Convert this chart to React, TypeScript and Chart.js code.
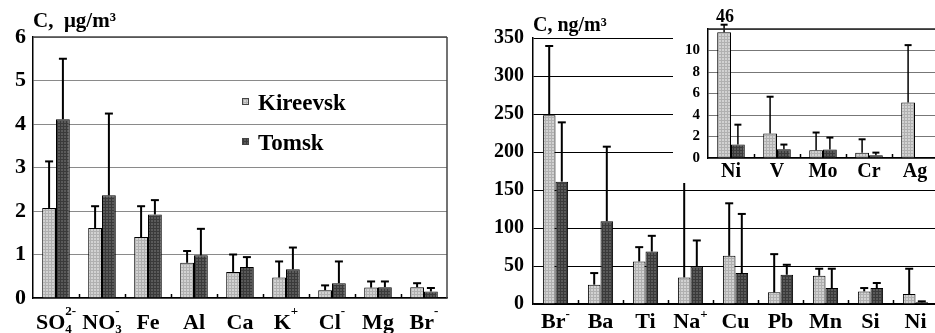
import React, { useEffect, useRef } from "react";
import { Chart, registerables } from "chart.js";
Chart.register(...registerables);

const FONT = "'Liberation Serif', 'Times New Roman', serif";

// ---------- Left panel (μg/m³) ----------
const leftBase = ["SO", "NO", "Fe", "Al", "Ca", "K", "Cl", "Mg", "Br"];
const leftSub = ["4", "3", "", "", "", "", "", "", ""];
const leftSup = ["2-", "-", "", "", "", "+", "-", "", "-"];
const leftKireevsk = [2.07, 1.61, 1.4, 0.81, 0.6, 0.47, 0.18, 0.24, 0.25];
const leftKireevskSD = [1.07, 0.5, 0.71, 0.27, 0.4, 0.37, 0.11, 0.14, 0.09];
const leftTomsk = [4.11, 2.36, 1.92, 0.98, 0.71, 0.66, 0.34, 0.25, 0.15];
const leftTomskSD = [1.39, 1.88, 0.33, 0.61, 0.23, 0.5, 0.5, 0.13, 0.08];
const leftTicks = [0, 1, 2, 3, 4, 5, 6];

// ---------- Right panel (ng/m³) ----------
const rightBase = ["Br", "Ba", "Ti", "Na", "Cu", "Pb", "Mn", "Si", "Ni"];
const rightSub = ["", "", "", "", "", "", "", "", ""];
const rightSup = ["-", "", "", "+", "", "", "", "", ""];
const rightKireevsk = [248.5, 25.4, 56, 35, 63.4, 15.3, 37.2, 16.6, 13.1];
const rightKireevskSD = [91, 15.3, 18.8, 128, 69.1, 50.3, 9.2, 4.4, 33.3];
const rightTomsk = [161, 109, 69, 49.4, 40.7, 38.5, 21, 21, 2.2];
const rightTomskSD = [78, 98, 20.7, 34.2, 77.8, 13.1, 25.4, 6.6, 1.3];
const rightTicks = [0, 50, 100, 150, 200, 250, 300, 350];

// ---------- Inset (ng/m³) ----------
const insetBase = ["Ni", "V", "Mo", "Cr", "Ag"];
const insetSub = ["", "", "", "", ""];
const insetSup = ["", "", "", "", ""];
const insetKireevsk = [11.7, 2.27, 0.72, 0.5, 5.17]; // Ni bar is broken (true value 46)
const insetKireevskSD = [0.7, 3.43, 1.65, 1.24, 5.33];
const insetTomsk = [1.25, 0.81, 0.78, 0.25, 0.03];
const insetTomskSD = [1.85, 0.44, 1.12, 0.25, 0];
const insetBreakLabel = "46";
const insetTicks = [0, 2, 4, 6, 8, 10, 12];

const seriesNames = ["Kireevsk", "Tomsk"];

function makePattern(base: string, line: string) {
  const c = document.createElement("canvas");
  c.width = 3;
  c.height = 3;
  const g = c.getContext("2d")!;
  g.fillStyle = base;
  g.fillRect(0, 0, 3, 3);
  g.fillStyle = line;
  g.fillRect(0, 0, 3, 1);
  g.fillRect(0, 0, 1, 3);
  return g.createPattern(c, "repeat")!;
}

const errorBarPlugin = {
  id: "errorBars",
  afterDatasetsDraw(chart: any, _a: any, opts: any) {
    const ctx = chart.ctx;
    const y = chart.scales.y;
    chart.data.datasets.forEach((ds: any, di: number) => {
      const sd = ds.errorBars;
      if (!sd) return;
      const meta = chart.getDatasetMeta(di);
      meta.data.forEach((bar: any, i: number) => {
        if (!sd[i]) return;
        const top = y.getPixelForValue(ds.data[i] + sd[i]);
        ctx.save();
        ctx.strokeStyle = "#000";
        ctx.lineWidth = opts.lineWidth || 2;
        ctx.beginPath();
        ctx.moveTo(bar.x, bar.y);
        ctx.lineTo(bar.x, top);
        ctx.stroke();
        ctx.lineWidth = opts.capWidth || 2;
        ctx.beginPath();
        ctx.moveTo(bar.x - (opts.cap || 4), top);
        ctx.lineTo(bar.x + (opts.cap || 4), top);
        ctx.stroke();
        ctx.restore();
      });
    });
  },
};

const decorPlugin = {
  id: "decor",
  afterDraw(chart: any, _a: any, opts: any) {
    const ctx = chart.ctx;
    const a = chart.chartArea;
    const xs = chart.scales.x;
    ctx.save();
    ctx.strokeStyle = opts.frameColor || "#000";
    ctx.lineWidth = 1.5;
    if (opts.top) {
      ctx.beginPath();
      ctx.moveTo(a.left, a.top);
      ctx.lineTo(a.right, a.top);
      ctx.stroke();
    }
    if (opts.right) {
      ctx.beginPath();
      ctx.moveTo(a.right, a.top);
      ctx.lineTo(a.right, a.bottom);
      ctx.stroke();
    }
    const n = chart.data.labels.length;
    const w = (a.right - a.left) / n;
    ctx.strokeStyle = "#000";
    ctx.lineWidth = 1.5;
    for (let i = 1; i < n; i++) {
      const x = Math.round(a.left + i * w) + 0.5;
      ctx.beginPath();
      ctx.moveTo(x, a.bottom);
      ctx.lineTo(x, a.bottom - 4);
      ctx.stroke();
    }
    const L = opts.labels;
    if (L) {
      ctx.fillStyle = "#000";
      ctx.textBaseline = "alphabetic";
      ctx.textAlign = "left";
      for (let i = 0; i < L.base.length; i++) {
        const cx = xs.getPixelForValue(i);
        ctx.font = `bold ${L.size}px ${FONT}`;
        const bw = ctx.measureText(L.base[i]).width;
        ctx.font = `bold ${L.small}px ${FONT}`;
        const sw = Math.max(ctx.measureText(L.sup[i]).width, ctx.measureText(L.sub[i]).width);
        const x0 = cx - (bw + sw) / 2;
        const yb = a.bottom + L.dy;
        ctx.font = `bold ${L.size}px ${FONT}`;
        ctx.fillText(L.base[i], x0, yb);
        ctx.font = `bold ${L.small}px ${FONT}`;
        if (L.sup[i]) ctx.fillText(L.sup[i], x0 + bw, yb - L.supDy);
        if (L.sub[i]) ctx.fillText(L.sub[i], x0 + bw, yb + L.subDy);
      }
    }
    if (opts.title) {
      ctx.font = `bold ${opts.title.size}px ${FONT}`;
      ctx.fillStyle = "#000";
      ctx.textAlign = "left";
      ctx.fillText(opts.title.text, opts.title.x, opts.title.y);
    }
    (opts.texts || []).forEach((t: any) => {
      ctx.font = `bold ${t.size}px ${FONT}`;
      ctx.fillStyle = "#000";
      ctx.textAlign = t.align || "left";
      ctx.fillText(t.text, t.x, t.y);
    });
    if (opts.legend) {
      chart.data.datasets.forEach((ds: any, di: number) => {
        const it = opts.legend[di];
        ctx.fillStyle = ds.backgroundColor;
        ctx.fillRect(it.x, it.y, 7, 7);
        ctx.strokeStyle = "#444";
        ctx.lineWidth = 1;
        ctx.strokeRect(it.x + 0.5, it.y + 0.5, 6, 6);
        ctx.font = `bold ${opts.legendSize}px ${FONT}`;
        ctx.fillStyle = "#000";
        ctx.textAlign = "left";
        ctx.fillText(ds.label, it.x + 16, it.y + 12);
      });
    }
    ctx.restore();
  },
};

function buildConfig(p: any) {
  const light = makePattern("#d2d2d2", "#b0b0b0");
  const dark = makePattern("#5a5a5a", "#3a3a3a");
  return {
    type: "bar",
    data: {
      labels: p.base.map((b: string, i: number) => b + p.sub[i] + p.sup[i]),
      datasets: [
        {
          label: seriesNames[0],
          data: p.k,
          errorBars: p.kSD,
          backgroundColor: light,
          borderColor: "#000",
          borderWidth: 1,
          categoryPercentage: p.cat,
          barPercentage: 1,
        },
        {
          label: seriesNames[1],
          data: p.t,
          errorBars: p.tSD,
          backgroundColor: dark,
          borderColor: "#000",
          borderWidth: 1,
          categoryPercentage: p.cat,
          barPercentage: 1,
        },
      ],
    },
    plugins: [errorBarPlugin, decorPlugin],
    options: {
      responsive: false,
      animation: false,
      devicePixelRatio: 1,
      layout: { padding: p.padding },
      scales: {
        x: {
          afterFit: (s: any) => {
            s.height = p.xh;
          },
          grid: { display: false },
          border: { display: true, color: "#000", width: 1.5 },
          ticks: { display: false },
        },
        y: {
          min: 0,
          max: p.ticks[p.ticks.length - 1],
          afterFit: (s: any) => {
            s.width = p.yw;
          },
          afterBuildTicks: (s: any) => {
            s.ticks = p.ticks.map((v: number) => ({ value: v }));
          },
          grid: { color: p.gridColor, lineWidth: 1, drawTicks: false },
          border: { display: true, color: "#000", width: 1.5 },
          ticks: {
            font: { family: FONT, size: p.yFont, weight: "bold" },
            color: "#000",
            padding: p.yPad,
            callback: (v: number) => (p.hideTop && v === p.ticks[p.ticks.length - 1] ? "" : String(v)),
          },
        },
      },
      plugins: {
        legend: { display: false },
        tooltip: { enabled: false },
        errorBars: p.err,
        decor: p.decor,
      },
    },
  } as any;
}

function ChartCanvas({ cfg, width, height, style }: any) {
  const ref = useRef<HTMLCanvasElement>(null);
  useEffect(() => {
    const c = new Chart(ref.current!, buildConfig(cfg));
    return () => c.destroy();
  }, []);
  return <canvas ref={ref} width={width} height={height} style={{ position: "absolute", ...style, width, height }} />;
}

export default function App() {
  const leftCfg = {
    base: leftBase, sub: leftSub, sup: leftSup,
    k: leftKireevsk, kSD: leftKireevskSD, t: leftTomsk, tSD: leftTomskSD,
    ticks: leftTicks, cat: 0.6,
    padding: { top: 37, right: 23, left: 0, bottom: 0 },
    xh: 35, yw: 33, yFont: 22, yPad: 7, gridColor: "#8a8a8a",
    err: { lineWidth: 2, capWidth: 2, cap: 4 },
    decor: {
      top: true, right: true, frameColor: "#444",
      labels: { size: 22, small: 13, dy: 31, supDy: 14, subDy: 4, base: leftBase, sub: leftSub, sup: leftSup },
      title: { text: "C,  μg/m³", x: 33, y: 27, size: 21 },
      legend: [{ x: 242, y: 98 }, { x: 242, y: 138 }],
      legendSize: 23,
    },
  };
  const rightCfg = {
    base: rightBase, sub: rightSub, sup: rightSup,
    k: rightKireevsk, kSD: rightKireevskSD, t: rightTomsk, tSD: rightTomskSD,
    ticks: rightTicks, cat: 0.56,
    padding: { top: 38, right: 2, left: 0, bottom: 0 },
    xh: 29, yw: 63, yFont: 20, yPad: 9, gridColor: "#000",
    err: { lineWidth: 2, capWidth: 2, cap: 4 },
    decor: {
      labels: { size: 22, small: 13, dy: 24, supDy: 10, subDy: 4, base: rightBase, sub: rightSub, sup: rightSup },
      title: { text: "C, ng/m³", x: 63, y: 31, size: 20 },
    },
  };
  const insetCfg = {
    base: insetBase, sub: insetSub, sup: insetSup,
    k: insetKireevsk, kSD: insetKireevskSD, t: insetTomsk, tSD: insetTomskSD,
    ticks: insetTicks, cat: 0.6, hideTop: true,
    padding: { top: 29, right: 5, left: 0, bottom: 0 },
    xh: 25, yw: 35, yFont: 15, yPad: 8, gridColor: "#777",
    err: { lineWidth: 1.5, capWidth: 2, cap: 3.5 },
    decor: {
      top: true, frameColor: "#222",
      labels: { size: 20, small: 11, dy: 19, supDy: 9, subDy: 4, base: insetBase, sub: insetSub, sup: insetSup },
      texts: [{ text: insetBreakLabel, x: 52, y: 22, size: 18, align: "center" }],
    },
  };
  return (
    <div style={{ position: "fixed", left: 0, top: 0, width: 935, height: 333, overflow: "hidden", background: "#fff" }}>
      <ChartCanvas cfg={leftCfg} width={470} height={333} style={{ left: 0, top: 0 }} />
      <ChartCanvas cfg={rightCfg} width={470} height={333} style={{ left: 470, top: 0 }} />
      <ChartCanvas cfg={insetCfg} width={270} height={183} style={{ left: 673, top: 0, background: "#fff" }} />
    </div>
  );
}
